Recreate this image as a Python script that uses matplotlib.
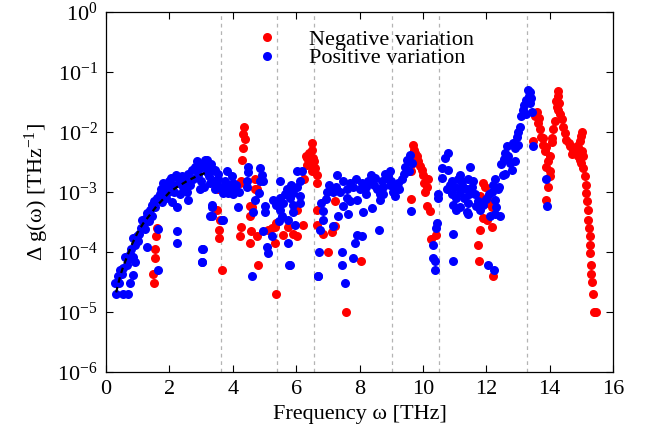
import numpy as np
import matplotlib
matplotlib.use('Agg')
from matplotlib import pyplot as plt

plt.rcParams['font.family'] = ['Liberation Serif', 'DejaVu Serif']
plt.rcParams['mathtext.fontset'] = 'custom'
plt.rcParams['mathtext.rm'] = 'Liberation Serif'
plt.rcParams['mathtext.it'] = 'Liberation Serif:italic'

# negative variation (red)
neg_x = [1.61, 1.55, 1.55, 1.48, 1.51, 1.58,
         4.36, 4.33, 4.38, 4.31, 4.28, 4.25, 4.23, 3.54, 3.49, 3.60, 3.57, 3.57, 3.65,
         4.25, 4.23, 4.54, 4.54, 4.56, 4.54, 4.70, 4.70, 4.75, 4.60, 4.75, 4.80,
         5.12, 5.23, 5.33, 5.33, 5.38, 5.36, 5.59, 5.75, 5.91,
         6.49, 6.49, 6.33, 6.54, 6.44, 6.59, 6.65, 6.65, 6.25, 6.30, 6.40, 6.55, 6.35, 6.50,
         6.02, 6.22, 6.02, 6.65, 6.65, 6.85, 7.12, 7.22, 7.22, 6.99, 8.04, 7.57,
         9.69, 9.75, 9.80, 9.64, 9.69, 9.64, 9.96, 10.01, 10.17, 10.12, 10.06, 9.64,
         10.12, 10.24, 10.41, 10.27, 9.72, 9.85, 9.90, 10.05,
         11.90, 11.96, 11.80, 12.01, 12.06, 12.17, 11.90, 12.01, 11.80, 12.19, 11.74, 11.77, 12.22,
         13.59, 13.53, 13.64, 13.69, 13.74, 13.48, 13.79, 13.85, 13.95, 13.90, 14.01, 13.95, 13.90,
         13.65, 13.80, 13.90, 14.00, 14.00,
         14.27, 14.27, 14.22, 14.27, 14.16, 14.11, 14.06, 14.06, 14.20, 14.30, 14.33,
         14.38, 14.43, 14.48, 14.53, 14.64, 14.74, 14.85, 14.60, 14.70, 14.80, 14.90, 14.90,
         15.01, 14.95, 15.01, 14.95, 15.00, 15.05, 15.00,
         15.06, 15.11, 15.14, 15.16, 15.18, 15.21, 15.21, 15.25, 15.27, 15.27, 15.29,
         15.32, 15.32, 15.35, 15.37, 15.39, 15.46]
neg_y = [2.5e-4, 1.1e-4, 7.8e-5, 4.2e-5, 3.0e-5, 1.8e-4,
         1.2e-2, 9.3e-3, 7.6e-3, 5.4e-3, 3.4e-3, 1.5e-3, 1.4e-3, 1.1e-3, 5.0e-4, 3.4e-4, 2.3e-4, 1.7e-4, 5.0e-5,
         2.6e-4, 1.8e-4, 5.7e-4, 3.9e-4, 2.2e-4, 1.4e-4, 1.1e-3, 1.6e-3, 1.1e-3, 5.5e-4, 1.8e-4, 6.0e-5,
         2.3e-4, 2.5e-4, 2.6e-4, 1.4e-4, 3.0e-4, 2.0e-5, 1.9e-4, 2.6e-4, 2.0e-4,
         6.5e-3, 5.0e-3, 3.6e-3, 3.7e-3, 3.0e-3, 2.5e-3, 1.9e-3, 1.4e-3, 1.6e-3, 4.0e-3, 4.5e-3, 3.2e-3, 2.8e-3, 2.2e-3,
         5.0e-4, 2.8e-4, 1.8e-4, 5.0e-4, 2.8e-4, 2.0e-4, 2.1e-4, 2.7e-4, 7.0e-4, 9.8e-5, 6.9e-5, 1.0e-5,
         6.0e-3, 4.4e-3, 4.0e-3, 3.4e-3, 3.0e-3, 2.2e-3, 2.3e-3, 1.9e-3, 1.6e-3, 1.2e-3, 1.0e-3, 7.6e-4,
         5.8e-4, 4.7e-4, 1.9e-4, 1.6e-4, 5.0e-3, 3.3e-3, 2.7e-3, 1.4e-3,
         1.4e-3, 1.2e-3, 8.4e-4, 8.0e-4, 6.4e-4, 5.5e-4, 3.6e-4, 3.4e-4, 2.3e-4, 2.6e-4, 1.3e-4, 6.9e-5, 3.9e-5,
         2.1e-2, 1.8e-2, 1.4e-2, 1.1e-2, 8.3e-3, 7.0e-3, 6.0e-3, 4.7e-3, 3.2e-3, 2.6e-3, 1.8e-3, 1.2e-3, 7.4e-4,
         1.7e-2, 8.0e-3, 5.5e-3, 4.0e-3, 2.2e-3,
         4.7e-2, 4.0e-2, 2.6e-2, 2.3e-2, 1.5e-2, 1.1e-2, 7.9e-3, 6.8e-3, 3.2e-2, 3.0e-2, 2.0e-2,
         1.6e-2, 1.2e-2, 9.5e-3, 7.4e-3, 5.7e-3, 5.0e-3, 5.7e-3, 6.5e-3, 4.3e-3, 4.8e-3, 5.5e-3, 4.0e-3,
         1.0e-2, 7.0e-3, 4.7e-3, 3.4e-3, 8.5e-3, 4.0e-3, 3.0e-3,
         2.5e-3, 1.8e-3, 1.3e-3, 9.5e-4, 7.0e-4, 4.9e-4, 3.4e-4, 2.5e-4, 1.8e-4, 1.3e-4, 9.5e-5,
         6.0e-5, 4.2e-5, 3.1e-5, 2.0e-5, 1.0e-5, 1.0e-5]

# positive variation (blue)
pos_x = [0.32, 0.55, 0.70, 0.28, 0.38, 0.50, 0.54, 0.76, 0.85, 0.60, 0.85, 0.91, 0.70,
         0.85, 0.98, 1.14, 1.23, 1.29, 1.39, 1.44, 1.64, 1.64, 1.77, 1.92, 1.97, 2.08,
         2.24, 2.24, 2.24, 2.27, 2.43, 2.59, 2.71, 2.87, 2.97, 3.12, 3.19, 3.34, 3.34,
         3.03, 3.03, 3.44, 3.66,
         0.40, 0.45, 0.65, 0.75, 0.80, 0.90, 1.00, 1.05, 1.10, 1.20, 1.25, 1.30, 1.35,
         1.45, 1.50, 1.55, 1.60, 1.70, 1.75, 1.80, 1.85, 1.90, 2.00, 2.05, 2.10, 2.15,
         2.20, 2.30, 2.35, 2.40, 2.50, 2.55, 2.60, 2.65, 2.75, 2.80, 2.90, 2.95, 3.00,
         3.05, 3.10, 3.15, 3.25, 3.30, 3.40, 3.45, 3.50, 3.55,
         3.18, 3.38, 3.28, 3.33, 3.28, 3.07, 3.02, 3.68, 3.81, 3.75, 3.97, 4.02, 4.07,
         3.86, 3.69, 4.20, 4.17, 4.49, 4.49, 4.44, 4.44, 4.70, 4.65, 4.86, 4.91, 4.86,
         4.96, 4.84, 5.02, 5.02, 4.96, 5.07, 5.12, 5.23, 4.60, 5.28, 5.49, 5.49, 5.70,
         5.91, 5.49, 5.54, 5.75, 5.75, 5.78, 6.02, 5.96,
         3.55, 3.60, 3.75, 3.90, 4.00, 3.95, 4.10,
         5.35, 5.45, 5.60, 5.65, 5.80, 5.85, 5.90,
         6.68, 6.73, 7.54,
         6.17, 6.12, 6.02, 5.86, 6.12, 6.12, 5.91, 5.80, 6.96, 7.17, 7.38, 7.28, 7.49,
         7.70, 7.80, 8.07, 8.27, 8.49, 8.64, 8.91, 6.80, 6.85, 6.85, 6.75, 7.17, 7.33,
         7.49, 7.64, 7.70, 7.91, 8.12, 8.38, 8.64, 8.62, 7.91, 8.07, 7.85, 7.80, 7.44,
         7.44, 6.70,
         7.05, 7.25, 7.60, 7.90, 8.00, 8.20, 8.35, 8.45, 8.55, 8.70, 8.80, 8.95, 8.20,
         7.60, 8.75, 6.95,
         8.96, 8.85, 8.75, 8.64, 9.12, 9.12, 9.33, 9.43, 9.49, 9.59, 9.61,
         10.48, 10.48, 10.59, 10.69, 10.80, 10.80, 10.43, 10.41, 10.32, 10.31, 10.38, 10.38,
         10.96, 10.94, 10.91, 10.91, 10.96, 11.17, 11.22, 11.17, 11.38, 11.38, 11.17,
         9.00, 9.05, 9.20, 9.25, 9.40, 9.65, 9.55,
         10.60, 10.75, 10.85, 11.00, 11.05, 11.10, 11.25, 11.30, 11.45, 11.05,
         11.48, 11.43, 11.59, 11.43, 11.43, 11.69, 11.80, 12.27, 12.38, 12.17, 12.27,
         12.32, 12.43, 12.27, 12.11, 12.06, 12.25,
         12.53, 12.48, 12.59, 12.64, 12.80, 12.90, 12.90, 12.96, 13.06, 13.11, 13.16,
         13.27, 13.32, 13.38, 13.38, 13.43, 13.48,
         12.55, 12.70, 12.75, 12.85, 13.00, 13.00, 13.20, 13.25, 13.35, 13.40, 12.40, 12.60,
         11.55, 11.65, 11.75, 11.90, 12.00, 12.20, 12.10,
         13.88, 13.93]
pos_y = [2.0e-5, 2.0e-5, 2.0e-5, 3.0e-5, 3.9e-5, 4.2e-5, 5.4e-5, 3.0e-5, 4.1e-5, 8.3e-5, 8.3e-5, 6.8e-5, 7.5e-5,
         1.7e-4, 1.8e-4, 3.4e-4, 2.4e-4, 1.2e-4, 5.0e-4, 4.0e-4, 2.4e-4, 5.0e-5, 6.8e-4, 1.3e-3, 1.0e-3, 6.8e-4,
         5.6e-4, 2.2e-4, 1.4e-4, 1.7e-3, 1.2e-3, 7.4e-4, 2.3e-3, 3.2e-3, 1.1e-3, 3.4e-3, 2.1e-3, 5.6e-4, 3.9e-4,
         1.1e-4, 6.8e-5, 2.3e-3, 3.4e-4,
         3.0e-5, 5.0e-5, 6.0e-5, 9.0e-5, 1.1e-4, 1.3e-4, 1.5e-4, 2.0e-4, 2.5e-4, 3.0e-4, 3.6e-4, 4.5e-4, 3.2e-4,
         6.0e-4, 7.0e-4, 5.5e-4, 8.0e-4, 9.0e-4, 1.1e-3, 1.4e-3, 1.2e-3, 8.0e-4, 1.5e-3, 1.7e-3, 1.3e-3, 1.0e-3,
         1.9e-3, 1.4e-3, 9.0e-4, 1.8e-3, 1.5e-3, 1.0e-3, 2.0e-3, 1.3e-3, 1.6e-3, 2.6e-3, 1.9e-3, 2.4e-3, 1.5e-3,
         2.8e-3, 1.2e-3, 2.6e-3, 1.8e-3, 2.9e-3, 1.5e-3, 1.1e-3, 1.3e-3, 2.0e-3,
         3.4e-3, 2.3e-3, 1.4e-3, 6.0e-4, 3.9e-4, 1.1e-4, 6.8e-5, 3.4e-4, 2.2e-3, 1.2e-3, 1.8e-3, 1.4e-3, 1.1e-3,
         9.5e-4, 9.6e-4, 9.9e-4, 5.5e-4, 2.6e-3, 2.1e-3, 1.5e-3, 1.2e-3, 7.4e-4, 4.6e-4, 2.5e-3, 1.9e-3, 1.5e-3,
         1.5e-3, 9.5e-4, 5.7e-4, 4.6e-4, 2.2e-4, 1.2e-4, 9.4e-5, 1.8e-4, 3.9e-5, 7.4e-4, 7.9e-4, 1.5e-3, 1.1e-3,
         9.5e-4, 5.0e-4, 4.0e-4, 3.4e-4, 1.4e-4, 6.0e-5, 2.2e-3, 2.8e-4,
         1.6e-3, 1.2e-3, 1.5e-3, 1.3e-3, 9.0e-4, 1.1e-3, 1.3e-3,
         6.0e-4, 3.3e-4, 6.5e-4, 9.0e-4, 8.0e-4, 1.3e-3, 6.0e-4,
         4.0e-5, 1.0e-4, 3.0e-5,
         2.2e-3, 1.5e-3, 1.2e-3, 1.0e-3, 8.4e-4, 6.6e-4, 4.6e-4, 6.0e-5, 1.0e-3, 1.0e-3, 1.0e-3, 1.9e-3, 1.5e-3,
         1.4e-3, 1.2e-3, 1.4e-3, 1.5e-3, 1.7e-3, 1.1e-3, 1.8e-3, 6.4e-4, 4.7e-4, 3.4e-4, 2.3e-4, 2.7e-4, 3.9e-4,
         5.7e-4, 4.2e-4, 7.0e-4, 7.4e-4, 4.6e-4, 5.3e-4, 7.4e-4, 2.3e-4, 1.9e-4, 1.8e-4, 1.4e-4, 8.0e-5, 1.0e-4,
         6.0e-5, 4.0e-5,
         1.3e-3, 1.2e-3, 1.1e-3, 1.6e-3, 1.1e-3, 1.2e-3, 1.9e-3, 1.3e-3, 1.1e-3, 1.5e-3, 2.0e-3, 1.3e-3, 9.0e-4,
         8.0e-4, 9.0e-4, 7.5e-4,
         2.2e-3, 1.7e-3, 1.2e-3, 9.0e-4, 8.4e-4, 1.2e-3, 1.6e-3, 2.6e-3, 3.4e-3, 4.1e-3, 4.7e-4,
         9.0e-4, 8.0e-4, 2.5e-3, 3.6e-3, 4.4e-3, 2.3e-3, 3.0e-4, 2.5e-4, 1.3e-4, 7.8e-5, 7.0e-5, 5.0e-5,
         2.0e-4, 7.0e-5, 1.5e-3, 9.0e-4, 6.0e-4, 1.9e-3, 1.5e-3, 1.0e-3, 1.1e-3, 4.6e-4, 5.5e-4,
         1.5e-3, 1.0e-3, 1.4e-3, 1.1e-3, 2.0e-3, 3.0e-3, 2.2e-3,
         1.7e-3, 1.1e-3, 1.3e-3, 1.2e-3, 8.0e-4, 1.6e-3, 1.3e-3, 8.0e-4, 9.0e-4, 5.0e-4,
         2.6e-3, 1.6e-3, 1.5e-3, 6.4e-4, 4.2e-4, 5.7e-4, 5.0e-4, 1.6e-3, 1.1e-3, 1.0e-3, 7.4e-4,
         5.5e-4, 3.9e-4, 4.2e-4, 4.0e-4, 6.0e-5, 5.0e-5,
         1.9e-3, 2.9e-3, 4.4e-3, 5.7e-3, 2.3e-3, 3.2e-3, 5.3e-3, 8.3e-3, 1.2e-2, 1.8e-2, 2.3e-2,
         3.4e-2, 5.0e-2, 4.6e-2, 3.0e-2, 2.1e-2, 5.7e-3,
         3.5e-3, 4.0e-3, 3.0e-3, 6.5e-3, 1.0e-2, 6.0e-3, 2.8e-2, 2.0e-2, 4.0e-2, 3.6e-2, 1.2e-3, 2.0e-3,
         1.2e-3, 9.0e-4, 7.0e-4, 6.0e-4, 7.5e-4, 1.3e-3, 9.0e-4,
         1.6e-3, 5.7e-4]

# black dashed guide curve at low frequency
fit_x = [0.32, 0.45, 0.55, 0.81, 1.00, 1.18, 1.40, 1.60, 1.80, 2.02, 2.30, 2.55, 2.85, 3.18]
fit_y = [2.1e-5, 4.0e-5, 5.8e-5, 1.3e-4, 2.1e-4, 3.0e-4, 4.2e-4, 5.8e-4, 7.5e-4, 1.0e-3, 1.25e-3, 1.5e-3, 1.8e-3, 2.1e-3]

# vertical dashed separators
vlines = [3.62, 5.40, 6.57, 9.04, 10.50, 13.30]

fig = plt.figure(figsize=(6.54, 4.37), dpi=100)
ax = fig.add_axes([0.1621, 0.1494, 0.7752, 0.8238])

for v in vlines:
    ax.axvline(v, color='#b4b4b4', lw=0.9, ls=(0, (3, 3)), zorder=1)

ax.plot(neg_x, neg_y, 'o', color='#ff0000', ms=6.5, mec='none', label='Negative variation', zorder=2)
ax.plot(pos_x, pos_y, 'o', color='#0000ff', ms=6.5, mec='none', label='Positive variation', zorder=3)
ax.plot(fit_x, fit_y, color='black', lw=1.6, ls=(0, (2.5, 2)), zorder=4)

ax.set_yscale('log')
ax.set_xlim(0, 16)
ax.set_ylim(1e-6, 1)
ax.set_xticks(range(0, 17, 2))
ax.set_yticks([1e-6, 1e-5, 1e-4, 1e-3, 1e-2, 1e-1, 1])
ax.minorticks_off()
ax.tick_params(direction='in', top=True, right=True, length=5, width=0.8,
               labelsize=16, pad=6)
for s in ax.spines.values():
    s.set_linewidth(0.9)

ax.set_xlabel('Frequency ω [THz]', fontsize=16, labelpad=4)
ax.set_ylabel(r'Δ g(ω) [THz$^{\mathregular{-1}}$]', fontsize=16, labelpad=4)

ax.legend(loc='upper left', bbox_to_anchor=(0.26, 1.0), frameon=False, fontsize=16,
          handlelength=1, handletextpad=1.4, labelspacing=-0.1, borderpad=0.3,
          numpoints=1)

plt.savefig('out.png', dpi=100)
